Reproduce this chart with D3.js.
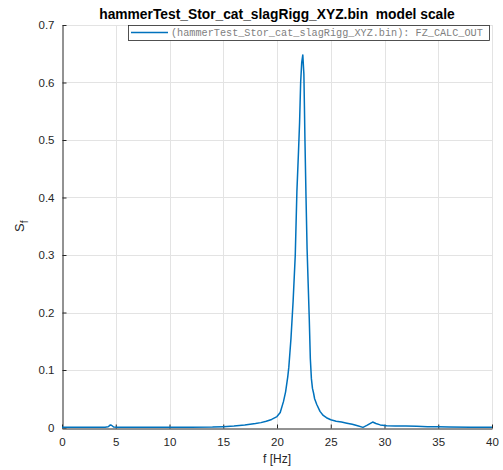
<!DOCTYPE html>
<html>
<head>
<meta charset="utf-8">
<script src="https://cdn.jsdelivr.net/npm/d3@7"></script>
<style>
  html, body { margin: 0; padding: 0; background: #fff; }
  svg { display: block; }
</style>
</head>
<body>
<svg id="chart" width="503" height="470"></svg>
<script>
// Spectrum of the hammer test signal (FZ_CALC_OUT)
const freqHz = [0, 0.5, 1, 2, 3, 4, 4.3, 4.5, 4.6, 4.8, 5.2, 6, 8, 10, 12, 14, 15, 16, 17, 17.5, 18, 18.5, 19, 19.5,
  20, 20.3, 20.6, 20.8, 21.0, 21.1, 21.2, 21.3, 21.5, 21.7, 21.85, 22.0, 22.1, 22.2, 22.3, 22.4, 22.5, 22.55, 22.6,
  22.7, 22.8, 22.9, 23.0, 23.1, 23.2, 23.3, 23.4, 23.5, 23.7, 24.0, 24.3, 24.6, 25.0, 25.5, 26.0, 26.5, 27.0, 27.5,
  28.0, 28.4, 28.9, 29.2, 29.6, 30.2, 31, 32, 33, 34, 35, 36, 38, 40];
const sfValues = [0.0004, 0.0004, 0.0003, 0.0003, 0.0004, 0.0006, 0.0012, 0.0045, 0.004, 0.0008, 0.0005, 0.0004,
  0.0003, 0.0004, 0.0006, 0.0009, 0.0015, 0.0025, 0.0042, 0.0055, 0.0068, 0.0085, 0.011, 0.014,
  0.019, 0.026, 0.045, 0.062, 0.088, 0.105, 0.13, 0.155, 0.22, 0.30, 0.41, 0.48, 0.53, 0.60, 0.635, 0.648, 0.615,
  0.56, 0.50, 0.40, 0.31, 0.25, 0.19, 0.12, 0.085, 0.068, 0.060, 0.05, 0.04, 0.028, 0.021, 0.017, 0.0135, 0.011,
  0.0095, 0.0075, 0.0055, 0.003, 0.0002, 0.004, 0.0095, 0.007, 0.0045, 0.003, 0.0025, 0.0025, 0.002, 0.0015,
  0.0012, 0.0008, 0.0006, 0.0005];
const xTicks = [0, 5, 10, 15, 20, 25, 30, 35, 40];
const yTicks = [0, 0.1, 0.2, 0.3, 0.4, 0.5, 0.6, 0.7];
const titleText = "hammerTest_Stor_cat_slagRigg_XYZ.bin  model scale";
const legendText = "(hammerTest_Stor_cat_slagRigg_XYZ.bin): FZ_CALC_OUT";

const svg = d3.select("#chart");
const margin = { left: 62, right: 11, top: 25, bottom: 42.5 };
const W = 503, H = 470;
const x = d3.scaleLinear().domain([0, 40]).range([margin.left, W - margin.right]);
const y = d3.scaleLinear().domain([0, 0.7]).range([H - margin.bottom, margin.top]);

const axisColor = "#262626";
const font = "'Liberation Sans', Arial, Helvetica, sans-serif";

// grid
const grid = svg.append("g").attr("stroke", "#e3e3e3").attr("stroke-width", 1);
grid.selectAll("line.gx").data(xTicks.filter(d => d > 0)).join("line")
  .attr("x1", d => Math.round(x(d)) + 0.5).attr("x2", d => Math.round(x(d)) + 0.5)
  .attr("y1", y(0)).attr("y2", y(0.7));
grid.selectAll("line.gy").data(yTicks.filter(d => d > 0)).join("line")
  .attr("y1", d => Math.round(y(d)) + 0.5).attr("y2", d => Math.round(y(d)) + 0.5)
  .attr("x1", x(0)).attr("x2", x(40));

// axes (ticks drawn inward)
const xAxis = d3.axisBottom(x).tickValues(xTicks).tickFormat(d3.format("d")).tickSizeInner(-4).tickSizeOuter(0).tickPadding(9);
const yAxis = d3.axisLeft(y).tickValues(yTicks).tickFormat(d => d === 0 ? "0" : d3.format(".1f")(d)).tickSizeInner(-4).tickSizeOuter(0).tickPadding(8);

const gx = svg.append("g").attr("transform", `translate(0,${Math.round(y(0)) + 0.5})`).call(xAxis);
const gy = svg.append("g").attr("transform", `translate(${Math.round(x(0)) + 0.5},0)`).call(yAxis);
[gx, gy].forEach(g => {
  g.select(".domain").attr("stroke", axisColor);
  g.selectAll(".tick line").attr("stroke", axisColor);
  g.selectAll(".tick text").attr("fill", axisColor).style("font-family", font).style("font-size", "11.5px");
});

// spectrum line
const pts = freqHz.map((f, i) => [f, sfValues[i]]);
svg.append("path")
  .datum(pts)
  .attr("fill", "none")
  .attr("stroke", "#0072BD")
  .attr("stroke-width", 1.5)
  .attr("stroke-linejoin", "round")
  .attr("d", d3.line().x(d => x(d[0])).y(d => y(d[1])));

// title
svg.append("text")
  .attr("x", (x(0) + x(40)) / 2).attr("y", 19)
  .attr("text-anchor", "middle")
  .style("font-family", font).style("font-weight", "bold").style("font-size", "13.8px")
  .style("white-space", "pre")
  .attr("fill", "#000")
  .text(titleText);

// axis labels
svg.append("text")
  .attr("x", (x(0) + x(40)) / 2).attr("y", 463)
  .attr("text-anchor", "middle")
  .style("font-family", font).style("font-size", "12px")
  .attr("fill", axisColor)
  .text("f [Hz]");

const yl = svg.append("text")
  .attr("transform", `translate(24,${(y(0) + y(0.7)) / 2}) rotate(-90)`)
  .attr("text-anchor", "middle")
  .style("font-family", font).style("font-size", "13px")
  .attr("fill", axisColor);
yl.append("tspan").text("S");
yl.append("tspan").attr("dy", 4).style("font-size", "10px").text("f");

// legend
const lg = svg.append("g");
lg.append("rect")
  .attr("x", 128.5).attr("y", 25.5).attr("width", 361).attr("height", 15)
  .attr("fill", "#fff").attr("stroke", "#262626").attr("stroke-width", 0.8);
lg.append("line")
  .attr("x1", 131).attr("x2", 168).attr("y1", 32.5).attr("y2", 32.5)
  .attr("stroke", "#0072BD").attr("stroke-width", 1.5);
lg.append("text")
  .attr("x", 171).attr("y", 36)
  .style("font-family", "'Liberation Mono', 'Courier New', monospace").style("font-size", "10.2px")
  .attr("fill", "#808080")
  .text(legendText);
</script>
</body>
</html>
